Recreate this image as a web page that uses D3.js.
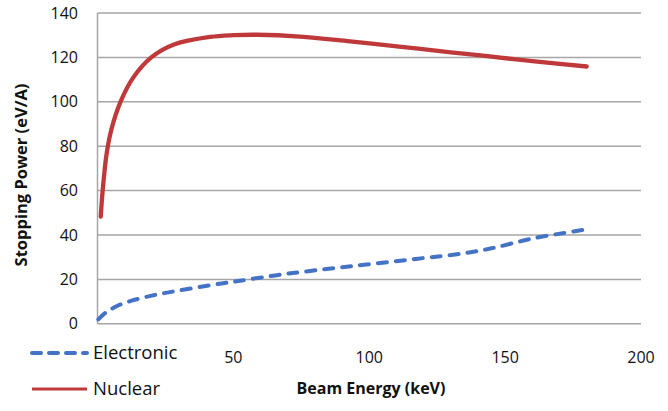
<!DOCTYPE html>
<html>
<head>
<meta charset="utf-8">
<script src="https://cdn.jsdelivr.net/npm/d3@7"></script>
<style>
  body { margin: 0; background: #fff; }
  svg { display: block; }
  text { font-family: "Open Sans", sans-serif; fill: #111; }
</style>
</head>
<body>
<svg id="chart" width="668" height="411"></svg>
<script>
// Data
const nuclearEnergy = [1.2, 1.9, 3.4, 5.2, 8.5, 13.2, 19.9, 27.9, 41.4, 50, 58.7, 74.5, 93, 111, 130, 141, 160, 180];
const nuclearPower  = [48.3, 60.0, 77.0, 88.0, 100.1, 111.0, 120.1, 125.7, 129.2, 130.0, 130.2, 129.4, 127.2, 124.9, 122.3, 120.9, 118.3, 115.9];
const electronicEnergy = [0.3, 3, 7, 12, 20, 30, 46.3, 52.4, 69.6, 91.7, 116.2, 135, 145, 160.4, 178.8];
const electronicPower  = [2.0, 5.0, 7.9, 10.2, 12.7, 15.0, 18.3, 19.4, 22.5, 25.7, 29.1, 31.8, 34.0, 38.5, 42.3];
const xTicks = [50, 100, 150, 200];
const yTicks = [0, 20, 40, 60, 80, 100, 120, 140];
const seriesNames = ["Electronic", "Nuclear"];

const svg = d3.select("#chart");
const x = d3.scaleLinear().domain([0, 200]).range([97.5, 641]);
const y = d3.scaleLinear().domain([0, 140]).range([323.8, 13]);

const grid = "#a6a6a6";

// horizontal gridlines
svg.append("g").selectAll("line").data(yTicks).join("line")
  .attr("x1", x(0)).attr("x2", x(200))
  .attr("y1", d => y(d)).attr("y2", d => y(d))
  .attr("stroke", grid).attr("stroke-width", 1.5);

// left axis line
svg.append("line")
  .attr("x1", x(0)).attr("x2", x(0))
  .attr("y1", y(0)).attr("y2", y(140))
  .attr("stroke", grid).attr("stroke-width", 1.5);

// y tick labels
svg.append("g").selectAll("text").data(yTicks).join("text")
  .attr("x", 78).attr("y", d => y(d))
  .attr("dy", "0.35em")
  .attr("text-anchor", "end")
  .attr("font-size", 16)
  .text(d => d);

// x tick labels
svg.append("g").selectAll("text").data(xTicks).join("text")
  .attr("x", d => x(d)).attr("y", 357)
  .attr("dy", "0.35em")
  .attr("text-anchor", "middle")
  .attr("font-size", 16)
  .text(d => d);

// axis titles
svg.append("text")
  .attr("x", 371).attr("y", 388).attr("dy", "0.35em")
  .attr("text-anchor", "middle")
  .attr("font-size", 16).attr("font-weight", "bold")
  .text("Beam Energy (keV)");

svg.append("text")
  .attr("transform", "translate(21,175) rotate(-90)")
  .attr("dy", "0.35em")
  .attr("text-anchor", "middle")
  .attr("font-size", 16.5).attr("font-weight", "bold")
  .text("Stopping Power (eV/A)");

const line = d3.line().x(d => x(d[0])).y(d => y(d[1])).curve(d3.curveCatmullRom.alpha(0.5));

const red = "#c0393a";
const blue = "#4472c4";

svg.append("path")
  .datum(d3.zip(electronicEnergy, electronicPower))
  .attr("d", line)
  .attr("fill", "none")
  .attr("stroke", blue).attr("stroke-width", 4)
  .attr("stroke-dasharray", "9,9")
  .attr("stroke-linecap", "round");

svg.append("path")
  .datum(d3.zip(nuclearEnergy, nuclearPower))
  .attr("d", line)
  .attr("fill", "none")
  .attr("stroke", red).attr("stroke-width", 4.3)
  .attr("stroke-linecap", "round");

// legend
const legend = svg.append("g");
const legendY = [353, 389];
legend.selectAll("line").data(seriesNames).join("line")
  .attr("x1", 32).attr("x2", 87)
  .attr("y1", (d, i) => legendY[i]).attr("y2", (d, i) => legendY[i])
  .attr("stroke", (d, i) => i === 0 ? blue : red)
  .attr("stroke-width", (d, i) => i === 0 ? 4 : 3)
  .attr("stroke-dasharray", (d, i) => i === 0 ? "9,8" : null)
  .attr("stroke-linecap", (d, i) => i === 0 ? "round" : "butt");
legend.selectAll("text").data(seriesNames).join("text")
  .attr("x", 93).attr("y", (d, i) => legendY[i]).attr("dy", "0.35em")
  .attr("font-size", 18.5)
  .text(d => d);
</script>
</body>
</html>
